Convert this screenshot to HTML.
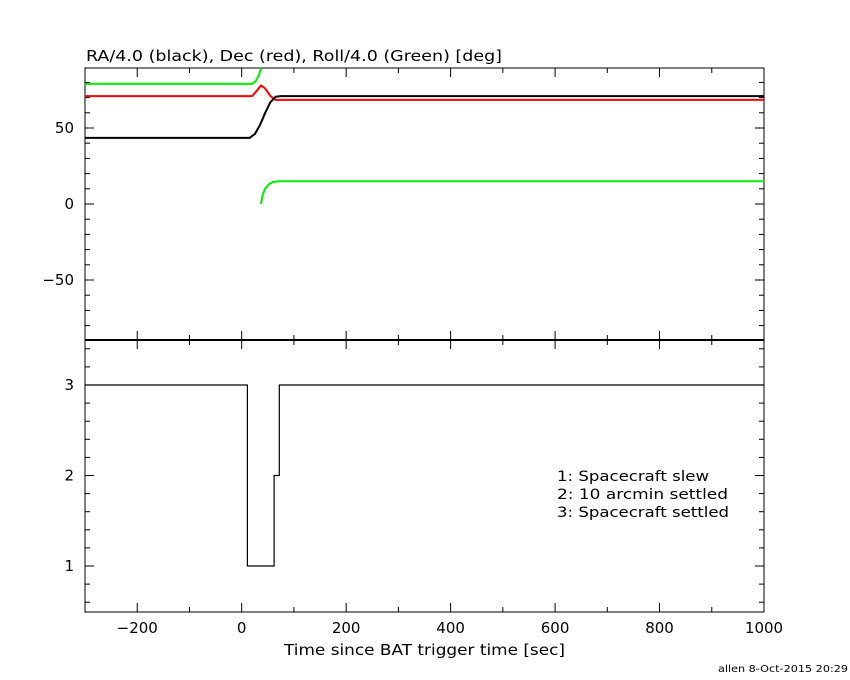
<!DOCTYPE html>
<html><head><meta charset="utf-8"><style>
body{margin:0;background:#fff;}
svg{display:block;font-family:"DejaVu Sans","Liberation Sans",sans-serif;}
</style></head><body>
<svg id="chart" width="850" height="680">
<rect x="0" y="0" width="850" height="680" fill="#fff"/>
<text x="86" y="61" font-size="15" textLength="416" lengthAdjust="spacingAndGlyphs">RA/4.0 (black), Dec (red), Roll/4.0 (Green) [deg]</text>
<text x="284" y="655" font-size="15" textLength="281" lengthAdjust="spacingAndGlyphs">Time since BAT trigger time [sec]</text>
<text x="718" y="672" font-size="10" textLength="130" lengthAdjust="spacingAndGlyphs">allen  8-Oct-2015 20:29</text>
<g font-size="14">
<text x="557" y="481" textLength="152" lengthAdjust="spacingAndGlyphs">1: Spacecraft slew</text>
<text x="557" y="499" textLength="171" lengthAdjust="spacingAndGlyphs">2: 10 arcmin settled</text>
<text x="557" y="517" textLength="172" lengthAdjust="spacingAndGlyphs">3: Spacecraft settled</text>
</g>
<g id="axes"></g>
<g id="series"></g>
</svg>
<script>
const xTicks=[-200,0,200,400,600,800,1000];
const topTicks=[-50,0,50];
const botTicks=[1,2,3];
const raT=[-300,15,25,35,45,55,65,75,335,1000];
const raV=[43.5,43.5,46,52,60,67,70.5,71,71,71];
const decT=[-300,20,30,37,45,55,65,335,1000];
const decV=[71,71,75,78,76,71,68.5,68.5,68.5];
const roll1T=[-300,20,27,32,36,38];
const roll1V=[79,79,81,84,88,90];
const roll2T=[37,40,45,52,60,70,335,1000];
const roll2V=[0,6,10,13,14.5,15,15,15];
const stT=[-300,11,11,62,62,72,72,1000];
const stV=[3,3,1,1,2,2,3,3];
const L=85,R=764,T=68,M=340,B=612;
const X=t=>L+(t+300)*(R-L)/1300;
const YT=v=>204-1.52*v;
const YB=v=>566-(v-1)*90.5;
const NS="http://www.w3.org/2000/svg";
const ax=document.getElementById('axes'),se=document.getElementById('series');
function mk(tag,at,par){const e=document.createElementNS(NS,tag);for(const k in at)e.setAttribute(k,at[k]);par.appendChild(e);return e;}
function line(x1,y1,x2,y2,w){return mk('line',{x1,y1,x2,y2,stroke:'#000','stroke-width':w||1},ax);}
const fr=mk('rect',{x:L,y:T,width:R-L,height:B-T,fill:'none',stroke:'#000','stroke-width':1},ax);


const dv=line(L,M,R,M,2);


for(let t=-300;t<=1000;t+=100){const maj=t%200===0,len=maj?9:5;const x=X(t);
line(x,B,x,B-len);line(x,M,x,M-len);line(x,M,x,M+len);line(x,T,x,T+len);}
xTicks.forEach(t=>{const e=mk('text',{x:X(t),y:633,'font-size':15,'text-anchor':'middle'},ax);e.textContent=(t<0?'\u2212':'')+Math.abs(t);

});
for(let v=-80;v<=80;v+=10){const y=YT(v);const len=v%50===0?9:5;line(L,y,L+len,y);line(R,y,R-len,y);}
topTicks.forEach(v=>{const e=mk('text',{x:74,y:YT(v)+5,'font-size':15,'text-anchor':'end'},ax);e.textContent=(v<0?'\u2212':'')+Math.abs(v);

});
for(let i=3;i<=17;i++){const v=i/5;const y=YB(v);const len=(i%5===0)?9:5;line(L,y,L+len,y);line(R,y,R-len,y);}
botTicks.forEach(v=>{const e=mk('text',{x:74,y:YB(v)+5,'font-size':15,'text-anchor':'end'},ax);e.textContent=v;

});
function path(ts,vs,Y,col,w,name){const d=ts.map((t,i)=>(i?'L':'M')+X(t).toFixed(1)+','+Math.max(T,Y(vs[i])).toFixed(1)).join('');
const p=mk('path',{d,fill:'none',stroke:col,'stroke-width':w,'stroke-linejoin':'round'},se);

}
path(roll1T,roll1V,YT,'#00ee00',2,'roll-line-before');
path(roll2T,roll2V,YT,'#00ee00',2,'roll-line-after');
path(decT,decV,YT,'#ff0000',2,'dec-line');
path(raT,raV,YT,'#000',2,'ra-line');
path(stT,stV,YB,'#000',1.2,'status-step-line');
</script>
</body></html>
